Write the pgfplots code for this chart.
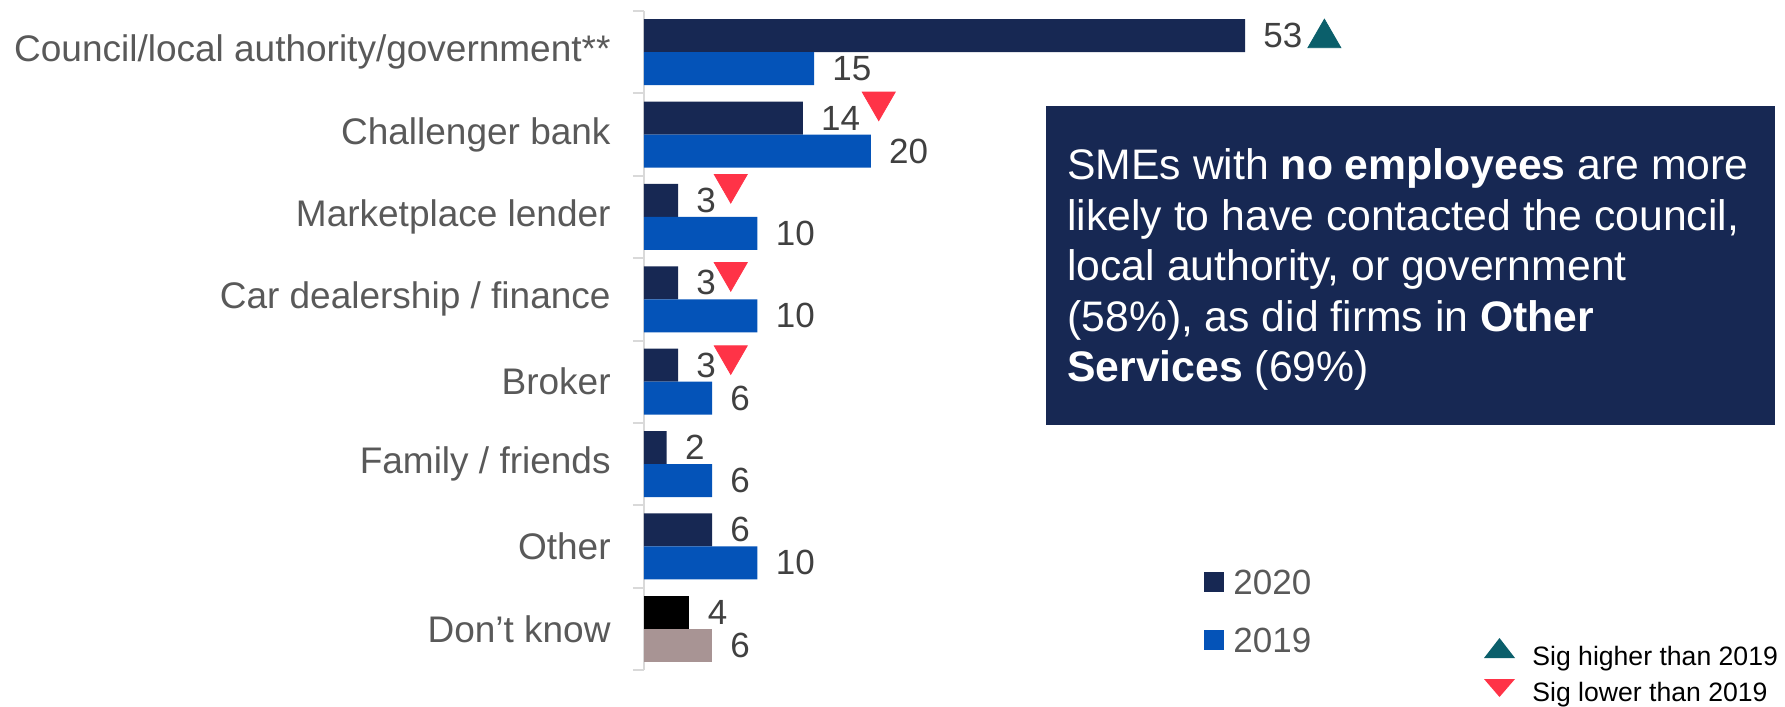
\documentclass[border=0pt]{standalone}
\usepackage{pgfplots}
\pgfplotsset{compat=1.18}
\usepackage{fontspec}
\setmainfont{Liberation Sans}

\definecolor{navy}{HTML}{172853}
\definecolor{blue19}{HTML}{0453B8}
\definecolor{sigred}{HTML}{FF3347}
\definecolor{sigteal}{HTML}{0B5F6B}
\definecolor{dkmauve}{HTML}{A89494}
\definecolor{labgray}{HTML}{595959}
\definecolor{valgray}{HTML}{404040}
\definecolor{axgray}{HTML}{D9D9D9}

\begin{document}
\begin{tikzpicture}
\path[use as bounding box] (0,0) rectangle (892.5pt,-353.5pt);
\begin{axis}[
    at={(322pt,-335pt)}, anchor=south west,
    scale only axis, width=567pt, height=329.5pt,
    xmin=0, xmax=100, ymin=-0.5, ymax=7.5,
    axis x line=none, axis y line=left,
    axis line style={-, axgray, line width=1pt},
    ytick={0,...,7},
    yticklabels={Don’t know, Other, Family / friends, Broker, Car dealership / finance, Marketplace lender, Challenger bank, Council/local authority/government**},
    major tick length=0pt,
    yticklabel style={font=\fontsize{18.5pt}{22pt}\selectfont, text=labgray, anchor=east, inner sep=0pt, xshift=-16.5pt},
    extra y ticks={-0.5,0.5,...,7.5}, extra y tick labels={},
    extra y tick style={major tick length=5.5pt, tick align=outside, major tick style={axgray, line width=1pt}},
    clip=false,
    /pgf/number format/assume math mode=true,
    legend style={at={(axis description cs:0.4938,0.0895)}, anchor=west, draw=none, fill=none,
        inner sep=0pt, row sep=16.5pt, font=\fontsize{17.5pt}{21pt}\selectfont, text=labgray,
        nodes={inner sep=0pt, text height=12.6pt, text depth=0pt}},
    legend image code/.code={\fill[#1] (0pt,-5pt) rectangle (10pt,5pt); \path (14.5pt,0pt);},
    legend cell align=left,
    vals/.style={nodes near coords, point meta=x,
        every node near coord/.append style={font=\fontsize{17.5pt}{21pt}\selectfont, text=valgray, anchor=west, inner sep=0pt, xshift=9pt, yshift=#1}},
]
% 2020
\addplot[xbar, bar width=16.5pt, bar shift=8.25pt, fill=navy, draw=none, vals=8.25pt]
    coordinates {(53,7) (14,6) (3,5) (3,4) (3,3) (2,2) (6,1)};
\addlegendentry{2020}
% 2019
\addplot[xbar, bar width=16.5pt, bar shift=-8.25pt, fill=blue19, draw=none, vals=-8.25pt]
    coordinates {(15,7) (20,6) (10,5) (10,4) (6,3) (6,2) (10,1)};
\addlegendentry{2019}
% Don't know
\addplot[xbar, bar width=16.5pt, bar shift=8.25pt, fill=black, draw=none, vals=8.25pt, forget plot]
    coordinates {(4,0)};
\addplot[xbar, bar width=16.5pt, bar shift=-8.25pt, fill=dkmauve, draw=none, vals=-8.25pt, forget plot]
    coordinates {(6,0)};
% significance markers
\addplot[only marks, mark=triangle*, mark size=9.5pt, color=sigteal, forget plot]
    coordinates {(60,7.17)};
\addplot[only marks, mark=triangle*, mark size=9.5pt, color=sigred, mark options={rotate=180}, forget plot]
    coordinates {(20.7,6.40) (7.65,5.40) (7.65,4.33) (7.65,3.32)};
\end{axis}

% call-out box
\fill[navy] (523pt,-53pt) rectangle (887.5pt,-212.5pt);
\begin{scope}[every node/.style={anchor=base west, inner sep=0pt, text=white, font=\fontsize{21.35pt}{25pt}\selectfont}]
\node at (533.5pt,-89.7pt) {SMEs with \textbf{no employees} are more};
\node at (533.5pt,-115pt) {likely to have contacted the council,};
\node at (533.5pt,-140.25pt) {local authority, or government};
\node at (533.5pt,-165.5pt) {(58\%), as did firms in \textbf{Other}};
\node at (533.5pt,-190.75pt) {\textbf{Services} (69\%)};
\end{scope}

% significance key
\fill[sigteal] (742pt,-329pt) -- (757.5pt,-329pt) -- (749.75pt,-319pt) -- cycle;
\fill[sigred] (742pt,-339.5pt) -- (757.5pt,-339.5pt) -- (749.75pt,-348.5pt) -- cycle;
\node[anchor=base west, inner sep=0pt, font=\fontsize{13.3pt}{16pt}\selectfont] at (766pt,-332.5pt) {Sig higher than 2019};
\node[anchor=base west, inner sep=0pt, font=\fontsize{13.3pt}{16pt}\selectfont] at (766pt,-350.5pt) {Sig lower than 2019};
\end{tikzpicture}
\end{document}
